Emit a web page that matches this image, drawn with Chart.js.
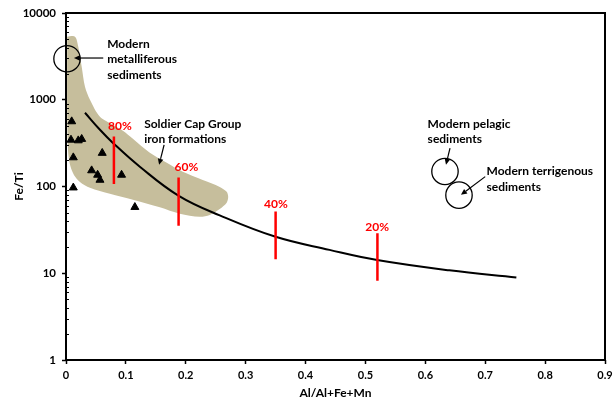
<!DOCTYPE html>
<html><head><meta charset="utf-8">
<script src="https://cdn.jsdelivr.net/npm/chart.js@4/dist/chart.umd.min.js"></script>
<style>html,body{margin:0;padding:0;background:#fff;}</style>
</head><body>
<canvas id="c" width="615" height="410"></canvas>
<script>
// ---- data ----
const yTickValues = [1, 10, 100, 1000, 10000];
const xTickStep = 0.1;

// Soldier Cap Group iron formation samples
const sampleX = [0.0095, 0.0083, 0.0205, 0.0262, 0.0122, 0.0605, 0.0428, 0.0528, 0.0567, 0.0928, 0.0122, 0.115];
const sampleY = [562, 345, 339, 352, 216, 243, 153, 136, 119, 136, 97, 57.8];

// mixing curve
const mixX = [0.0317, 0.0567, 0.0788, 0.1233, 0.1883, 0.2567, 0.35, 0.44, 0.5195, 0.64, 0.752];
const mixY = [708, 451, 316, 169, 78, 46.5, 26.3, 18.6, 14.2, 10.8, 8.95];

// Soldier Cap Group field (closed outline)
const fieldX = [0.002, 0.015, 0.0205, 0.0262, 0.0317, 0.04, 0.0567, 0.0783, 0.095, 0.1117, 0.14, 0.1683, 0.195, 0.2283, 0.2567, 0.2683, 0.2708, 0.2683, 0.2567, 0.24, 0.2233, 0.19, 0.1567, 0.1117, 0.0733, 0.04, 0.0233, 0.0133, 0.0067, 0.0033, 0.002, 0.002];
const fieldY = [5332, 5332, 4087, 2403, 1412, 1000, 636, 514, 439, 355, 245, 188, 148, 119, 99, 87, 76, 65, 55, 47, 44.7, 48.4, 57.5, 70.2, 82.3, 96.5, 113, 136, 178, 265, 766, 5332];

// percentage marks on mixing curve
const pctLabels = ['80%', '60%', '40%', '20%'];
const pctX = [0.08, 0.188, 0.35, 0.52];
const pctTop = [377, 127, 51.4, 29];
const pctBottom = [107, 35.2, 14.5, 8.2];
const pctLabelX = [0.09, 0.2012, 0.3505, 0.5195];
const pctLabelY = [492, 169, 63.1, 34];

// modern sediment fields (circles)
const circleNames = ['Modern metalliferous sediments', 'Modern pelagic sediments', 'Modern terrigenous sediments'];
const circleX = [0.0017, 0.6328, 0.6562];
const circleY = [2970, 149, 79.5];

// annotation texts (first-line anchor, data coords)
const noteLines = [
  ['Modern', 'metalliferous', 'sediments'],
  ['Soldier Cap Group', 'iron formations'],
  ['Modern pelagic', 'sediments'],
  ['Modern terrigenous', 'sediments']
];
const noteX = [0.0688, 0.1305, 0.6038, 0.7022];
const noteY = [4391, 524, 528, 148.8];

// arrows (from -> to, data coords)
const arrowFromX = [0.0622, 0.1638, 0.6412, 0.70];
const arrowFromY = [3027, 302, 277, 130];
const arrowToX = [0.0133, 0.1555, 0.6345, 0.6595];
const arrowToY = [3027, 178, 178, 80.1];

// ---- styles ----
const FONT = 'Lato, "DejaVu Sans", sans-serif';
const TAN = 'rgb(198,190,156)';
const RED = '#ff0000';

const pts = (xs, ys) => xs.map((x, i) => ({x: x, y: ys[i]}));

const datasets = [];
datasets.push({
  label: 'field', data: pts(fieldX, fieldY), showLine: true, fill: 'shape',
  backgroundColor: TAN, borderColor: 'rgba(0,0,0,0)', borderWidth: 1,
  pointRadius: 0, tension: 0.3, order: 10
});
datasets.push({
  label: 'mixing', data: pts(mixX, mixY), showLine: true, fill: false,
  borderColor: '#000', borderWidth: 2, pointRadius: 0,
  tension: 0.4, order: 5
});
pctLabels.forEach((l, i) => {
  datasets.push({
    label: l, data: [{x: pctX[i], y: pctTop[i]}, {x: pctX[i], y: pctBottom[i]}],
    showLine: true, fill: false, borderColor: RED, borderWidth: 2.5, pointRadius: 0, order: 4
  });
});
datasets.push({
  label: 'samples', data: pts(sampleX, sampleY), showLine: false,
  pointStyle: 'triangle', pointRadius: 4.6, backgroundColor: '#000', borderColor: '#000', borderWidth: 1, order: 1
});
datasets.push({
  label: 'modern', data: pts(circleX, circleY), showLine: false,
  pointStyle: 'circle', pointRadius: 13.2, backgroundColor: 'rgba(0,0,0,0)', borderColor: '#000', borderWidth: 1.3,
  clip: false, order: 2
});

const decor = {
  id: 'decor',
  afterDatasetsDraw(chart) {
    const {ctx, chartArea: a, scales: {x, y}} = chart;
    ctx.save();
    // minor ticks (inside) on log axis
    ctx.strokeStyle = '#000'; ctx.lineWidth = 1;
    for (let d = 0; d < yTickValues.length - 1; d++) {
      for (let k = 2; k <= 9; k++) {
        const py = Math.round(y.getPixelForValue(yTickValues[d] * k)) + 0.5;
        ctx.beginPath(); ctx.moveTo(a.left, py); ctx.lineTo(a.left + 3, py); ctx.stroke();
      }
    }
    // plot box
    ctx.lineWidth = 2;
    ctx.strokeRect(a.left, a.top, a.right - a.left, a.bottom - a.top);
    // percent labels
    ctx.font = 'bold 12px ' + FONT; ctx.fillStyle = RED;
    ctx.textAlign = 'center'; ctx.textBaseline = 'middle';
    pctLabels.forEach((l, i) => ctx.fillText(l, x.getPixelForValue(pctLabelX[i]), y.getPixelForValue(pctLabelY[i])));
    // notes
    ctx.fillStyle = '#000'; ctx.textAlign = 'left';
    noteLines.forEach((lines, i) => {
      const px = x.getPixelForValue(noteX[i]), py = y.getPixelForValue(noteY[i]);
      lines.forEach((t, j) => ctx.fillText(t, px, py + j * 15.5));
    });
    // arrows
    ctx.lineWidth = 1.2; ctx.strokeStyle = '#000';
    arrowFromX.forEach((fx, i) => {
      const x1 = x.getPixelForValue(fx), y1 = y.getPixelForValue(arrowFromY[i]);
      const x2 = x.getPixelForValue(arrowToX[i]), y2 = y.getPixelForValue(arrowToY[i]);
      const ang = Math.atan2(y2 - y1, x2 - x1), L = 6, W = 2.8;
      const bx = x2 - L * Math.cos(ang), by = y2 - L * Math.sin(ang);
      ctx.beginPath(); ctx.moveTo(x1, y1); ctx.lineTo(bx, by); ctx.stroke();
      ctx.beginPath(); ctx.moveTo(x2, y2);
      ctx.lineTo(bx + W * Math.sin(ang), by - W * Math.cos(ang));
      ctx.lineTo(bx - W * Math.sin(ang), by + W * Math.cos(ang));
      ctx.closePath(); ctx.fill();
    });
    ctx.restore();
  }
};

new Chart(document.getElementById('c'), {
  type: 'scatter',
  data: {datasets},
  options: {
    responsive: false, devicePixelRatio: 1, animation: false, events: [],
    layout: {autoPadding: false, padding: {top: 13, right: 10, left: 0, bottom: 0}},
    plugins: {legend: {display: false}, tooltip: {enabled: false}},
    scales: {
      x: {
        type: 'linear', min: 0, max: 0.9,
        ticks: {stepSize: xTickStep, color: '#000', padding: 5, font: {family: FONT, size: 11, weight: 'bold'},
          callback: v => (Math.abs(v) < 1e-9 ? '0' : v.toFixed(1))},
        grid: {drawOnChartArea: false, drawTicks: true, tickLength: 4, tickColor: '#000', tickWidth: 1.5},
        border: {display: false},
        title: {display: true, text: 'Al/Al+Fe+Mn', color: '#000', font: {family: FONT, size: 12, weight: 'bold'}, padding: {top: 0, bottom: 10}},
        afterFit: s => { s.height = 50; s.paddingRight = 0; s.paddingLeft = 0; }
      },
      y: {
        type: 'logarithmic', min: 1, max: 10000,
        afterBuildTicks: s => { s.ticks = yTickValues.map(v => ({value: v})); },
        ticks: {color: '#000', padding: 6, font: {family: FONT, size: 11.5, weight: 'bold'}, autoSkip: false,
          callback: v => String(v)},
        grid: {drawOnChartArea: false, drawTicks: true, tickLength: 4, tickColor: '#000', tickWidth: 1.5},
        border: {display: false},
        title: {display: true, text: 'Fe/Ti', color: '#000', font: {family: FONT, size: 12, weight: 'bold'}, padding: {top: 12, bottom: 0}},
        afterFit: s => { s.width = 66; s.paddingTop = 0; s.paddingBottom = 0; }
      }
    }
  },
  plugins: [decor]
});
</script>
</body></html>
